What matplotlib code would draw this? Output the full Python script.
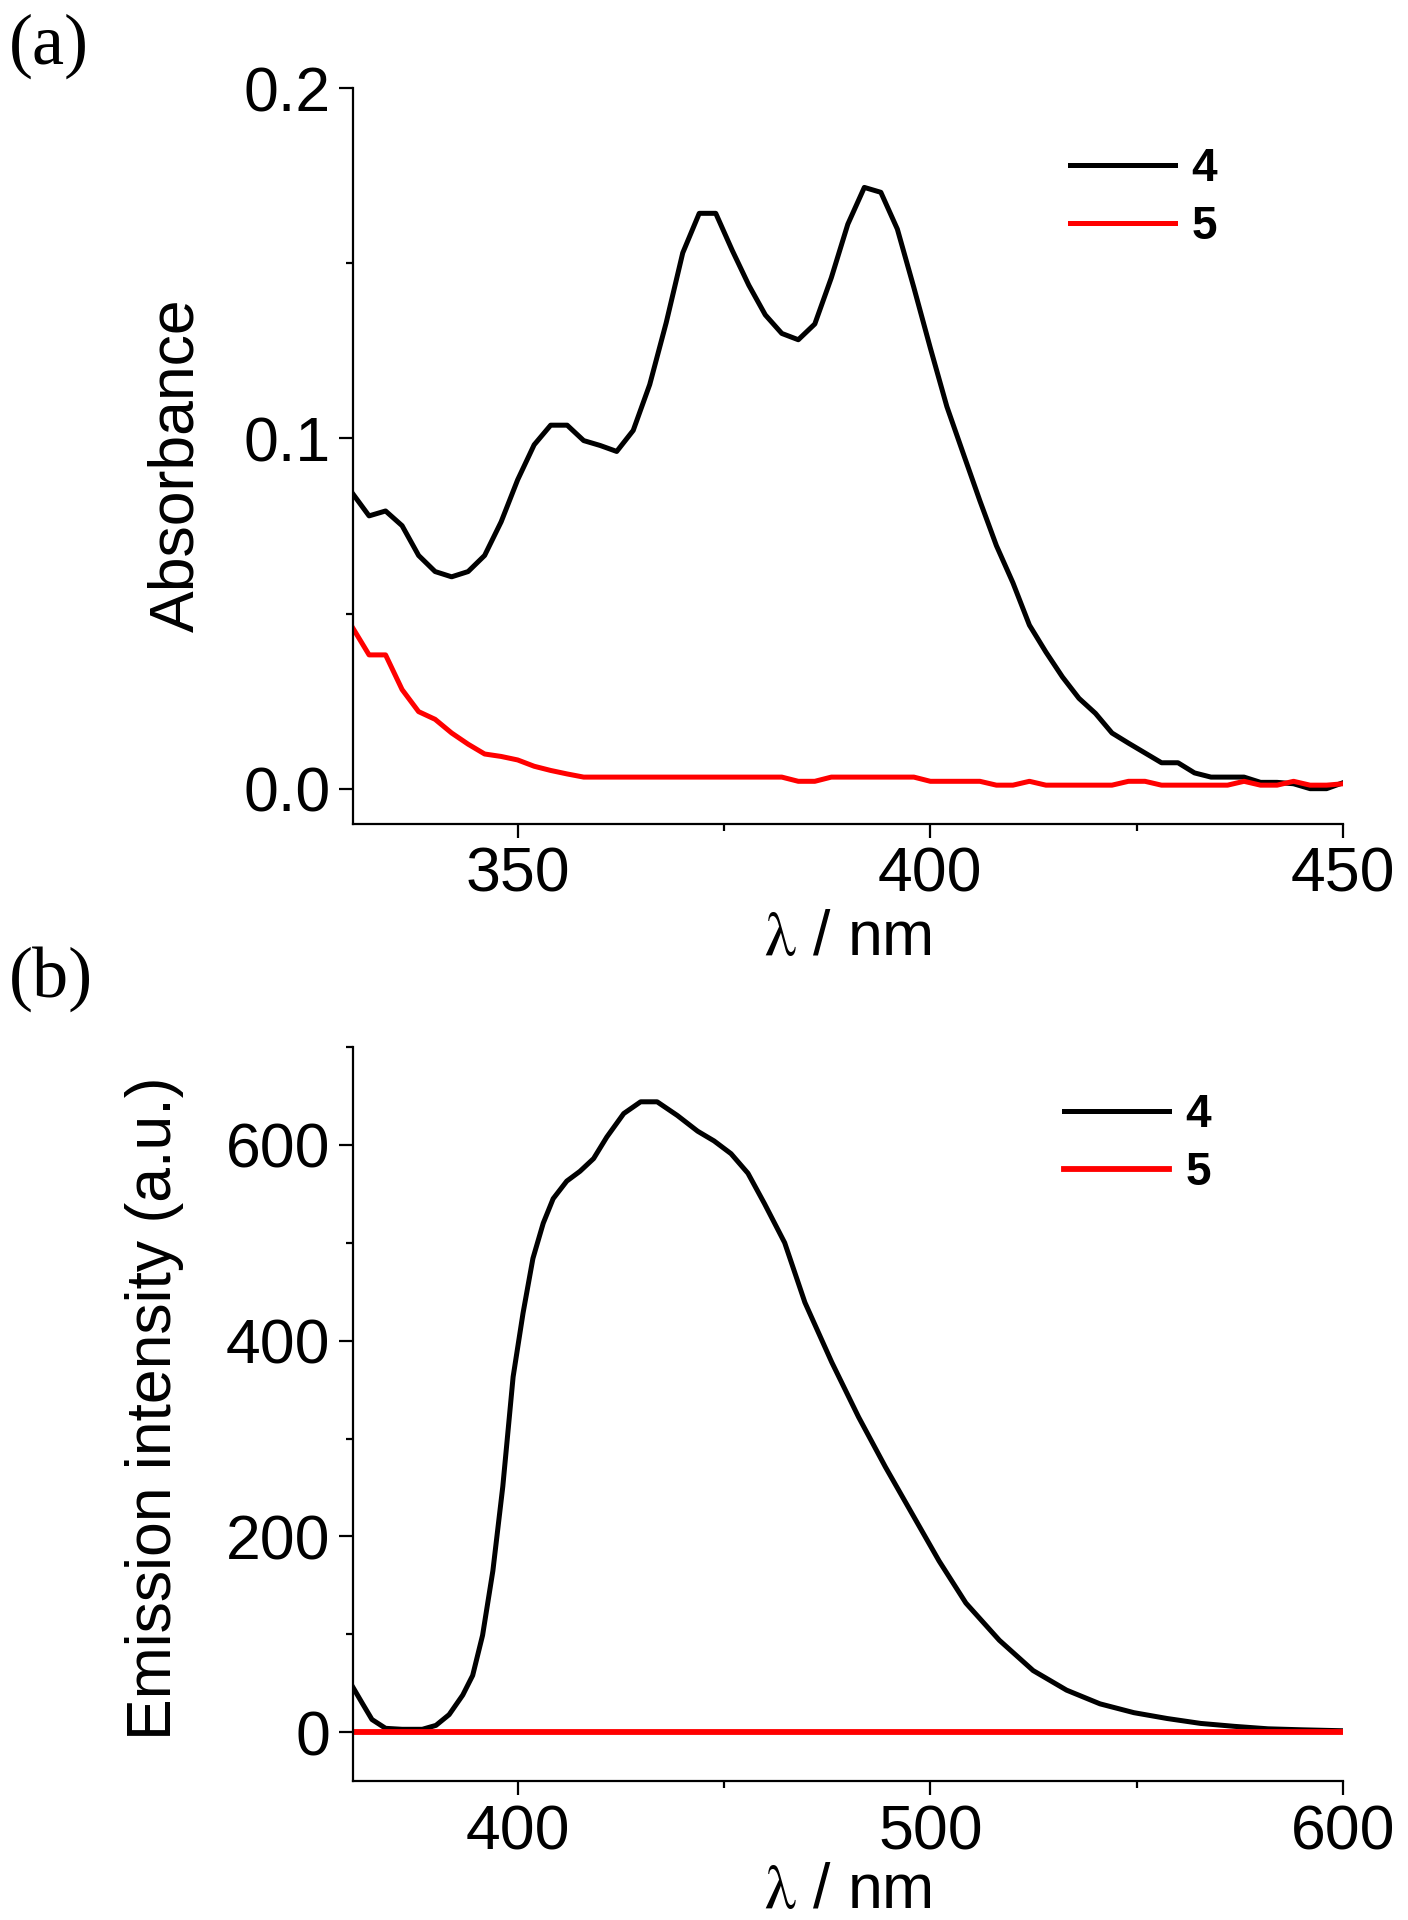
import matplotlib
matplotlib.use("Agg")
import matplotlib.pyplot as plt
from matplotlib.ticker import MultipleLocator, FormatStrFormatter

plt.rcParams["font.family"] = ["Liberation Sans", "DejaVu Sans"]
plt.rcParams["mathtext.fontset"] = "stix"

# ── (a) absorbance data ──────────────────────────────────────────────────────
abs_wl = [330, 332, 334, 336, 338, 340, 342, 344, 346, 348,
          350, 352, 354, 356, 358, 360, 362, 364, 366, 368,
          370, 372, 374, 376, 378, 380, 382, 384, 386, 388,
          390, 392, 394, 396, 398, 400, 402, 404, 406, 408,
          410, 412, 414, 416, 418, 420, 422, 424, 426, 428,
          430, 432, 434, 436, 438, 440, 442, 444, 446, 448, 450]
abs_4 = [0.0843, 0.0779, 0.0793, 0.0751, 0.0666, 0.0620, 0.0605, 0.0620, 0.0666, 0.0762,
         0.0882, 0.0982, 0.1038, 0.1038, 0.0994, 0.0980, 0.0963, 0.1023, 0.1154, 0.1331,
         0.1530, 0.1643, 0.1643, 0.1537, 0.1438, 0.1353, 0.1300, 0.1282, 0.1327, 0.1459,
         0.1612, 0.1717, 0.1703, 0.1598, 0.1431, 0.1258, 0.1091, 0.0956, 0.0822, 0.0694,
         0.0588, 0.0467, 0.0390, 0.0319, 0.0258, 0.0215, 0.0159, 0.0130, 0.0102, 0.0074,
         0.0074, 0.0045, 0.0033, 0.0033, 0.0033, 0.0018, 0.0018, 0.0014, 0.0000, 0.0000, 0.0017]
abs_5 = [0.0460, 0.0382, 0.0382, 0.0283, 0.0220, 0.0198, 0.0159, 0.0127, 0.0099, 0.0092,
         0.0082, 0.0064, 0.0052, 0.0042, 0.0033, 0.0033, 0.0033, 0.0033, 0.0033, 0.0033,
         0.0033, 0.0033, 0.0033, 0.0033, 0.0033, 0.0033, 0.0033, 0.0021, 0.0021, 0.0033,
         0.0033, 0.0033, 0.0033, 0.0033, 0.0033, 0.0021, 0.0021, 0.0021, 0.0021, 0.0010,
         0.0010, 0.0021, 0.0010, 0.0010, 0.0010, 0.0010, 0.0010, 0.0021, 0.0021, 0.0010,
         0.0010, 0.0010, 0.0010, 0.0010, 0.0021, 0.0010, 0.0010, 0.0021, 0.0010, 0.0010, 0.0014]

# ── (b) emission data ────────────────────────────────────────────────────────
em_wl = [359.8, 362.3, 364.7, 368.0, 372.0, 376.9, 380.2, 383.4, 386.7, 389.1,
         391.5, 394.0, 396.4, 398.9, 401.3, 403.7, 406.2, 408.6, 411.9, 415.1,
         418.4, 421.6, 425.7, 429.8, 433.8, 438.7, 443.6, 447.6, 451.7, 455.8,
         459.8, 464.7, 469.6, 476.1, 482.6, 489.1, 495.6, 502.1, 508.6, 516.7,
         524.9, 533.0, 541.1, 549.3, 557.4, 565.5, 573.7, 581.8, 589.9, 600.0]
em_4 = [48, 30, 13, 4, 3, 3, 7, 18, 38, 58,
        99, 165, 251, 363, 428, 484, 520, 545, 563, 573,
        586, 608, 632, 644, 644, 630, 614, 604, 591, 571,
        540, 500, 439, 378, 322, 271, 223, 175, 132, 94,
        63, 43, 29, 20, 14, 9, 6, 3.5, 2.5, 1.5]
em_5_wl = [360, 600]
em_5 = [0, 0]

BLACK = "#000000"
RED = "#FF0000"
LW = 3.6
FS = 45

fig = plt.figure(figsize=(14.08, 19.2), dpi=100, facecolor="white")
ax1 = fig.add_axes([0.2504, 0.571, 0.7035, 0.383])
ax2 = fig.add_axes([0.2504, 0.0723, 0.7035, 0.3824])


def style(ax):
    for s in ("top", "right"):
        ax.spines[s].set_visible(False)
    for s in ("left", "bottom"):
        ax.spines[s].set_linewidth(1.6)
    ax.tick_params(which="major", direction="out", length=10, width=1.6,
                   labelsize=FS, pad=6)
    ax.tick_params(which="minor", direction="out", length=5, width=1.6)


LEG = dict(loc="upper left", frameon=False, prop={"weight": "bold", "size": 33},
           handlelength=2.3, handletextpad=0.35, labelspacing=0.3,
           borderpad=0, borderaxespad=0)

# ── panel (a) ────────────────────────────────────────────────────────────────
ax1.plot(abs_wl, abs_4, color=BLACK, lw=LW, label="4")
ax1.plot(abs_wl, abs_5, color=RED, lw=LW, label="5")
ax1.set_xlim(330, 450)
ax1.set_ylim(-0.01, 0.2)
ax1.xaxis.set_major_locator(MultipleLocator(50))
ax1.xaxis.set_minor_locator(MultipleLocator(25))
ax1.yaxis.set_major_locator(MultipleLocator(0.1))
ax1.yaxis.set_minor_locator(MultipleLocator(0.05))
ax1.yaxis.set_major_formatter(FormatStrFormatter("%.1f"))
style(ax1)
ax1.set_xlabel(r"$\mathrm{\lambda}$ / nm", fontsize=FS, labelpad=3)
ax1.set_ylabel("Absorbance", fontsize=FS)
ax1.yaxis.set_label_coords(-0.148, 0.488)
ax1.legend(bbox_to_anchor=(0.724, 0.920), **LEG)

# ── panel (b) ────────────────────────────────────────────────────────────────
ax2.plot(em_wl, em_4, color=BLACK, lw=LW, label="4")
ax2.plot(em_5_wl, em_5, color=RED, lw=LW + 0.6, label="5")
ax2.set_xlim(360, 600)
ax2.set_ylim(-50, 700)
ax2.xaxis.set_major_locator(MultipleLocator(100))
ax2.xaxis.set_minor_locator(MultipleLocator(50))
ax2.yaxis.set_major_locator(MultipleLocator(200))
ax2.yaxis.set_minor_locator(MultipleLocator(100))
style(ax2)
ax2.set_xlabel(r"$\mathrm{\lambda}$ / nm", fontsize=FS, labelpad=0)
ax2.set_ylabel("Emission intensity (a.u.)", fontsize=FS)
ax2.yaxis.set_label_coords(-0.170, 0.508)
ax2.legend(bbox_to_anchor=(0.718, 0.937), **LEG)

# panel letters
fig.text(0.006, 0.976, "(a)", fontsize=52, family="Liberation Serif", va="center")
fig.text(0.006, 0.490, "(b)", fontsize=52, family="Liberation Serif", va="center")

fig.savefig("out.png", dpi=100, facecolor="white")
